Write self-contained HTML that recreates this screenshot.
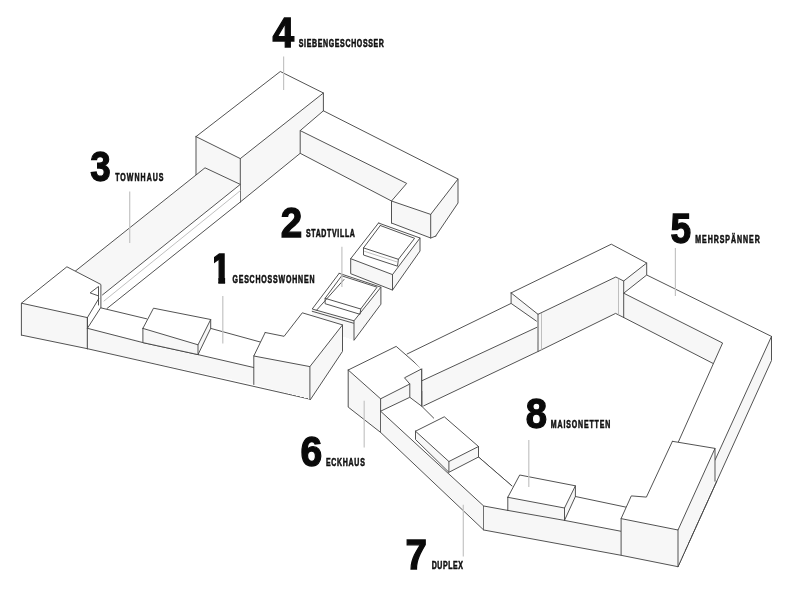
<!DOCTYPE html>
<html lang="de"><head><meta charset="utf-8"><title>Wohntypologien</title>
<style>html,body{margin:0;padding:0;background:#fff}body{width:800px;height:593px;overflow:hidden}svg{display:block;filter:blur(0.4px)}.n{font-family:"Liberation Sans",sans-serif;font-weight:bold;font-size:41.8px;fill:#0a0a0a;stroke:#0a0a0a;stroke-width:1.3px}.t{font-family:"Liberation Sans",sans-serif;font-weight:bold;font-size:10.0px;fill:#111;stroke:#111;stroke-width:0.55px}</style></head><body>
<svg width="800" height="593" viewBox="0 0 800 593">
<rect width="800" height="593" fill="#fff"/>
<g fill="none" stroke="#4a4a4a" stroke-width="0.95" stroke-linecap="round" stroke-linejoin="round">
<polygon points="196.0,136.6 280.3,71.5 323.4,93.0 323.4,110.8 300.2,130.6 300.2,153.3 240.3,202.0 196.0,175.0" fill="#f7f7f7" stroke="none" shape-rendering="crispEdges"/>
<polygon points="196.0,136.6 280.3,71.5 323.4,93.0 240.3,158.6" fill="#fff" stroke="none" shape-rendering="crispEdges"/>
<polyline points="196.0,136.6 280.3,71.5 323.4,93.0 240.3,158.6 196.0,136.6"/>
<polyline points="196.0,136.6 196.0,175.0"/>
<polyline points="240.3,158.6 240.3,202.0"/>
<polyline points="323.4,93.0 323.4,110.8"/>
<polyline points="240.3,202.0 300.2,153.3"/>
<polygon points="323.4,110.8 458.0,179.0 458.0,203.0 435.7,235.0 430.7,237.5 391.5,223.0 391.5,201.0 300.2,153.3 300.2,130.6" fill="#f7f7f7" stroke="none" shape-rendering="crispEdges"/>
<polygon points="323.4,110.8 458.0,179.0 430.7,214.4 391.5,201.0 406.7,183.4 300.2,130.6" fill="#fff" stroke="none" shape-rendering="crispEdges"/>
<polyline points="323.4,110.8 458.0,179.0 430.7,214.4 391.5,201.0 406.7,183.4 300.2,130.6 323.4,110.8"/>
<polyline points="300.2,130.6 300.2,153.3 391.5,201.0 391.5,223.0"/>
<polyline points="458.0,179.0 458.0,203.0 435.7,236.0"/>
<polyline points="430.7,214.4 430.7,238.0"/>
<polyline points="391.5,223.0 430.7,238.0 436.0,236.0"/>
<polygon points="75.2,271.2 196.0,175.0 205.0,167.8 240.3,184.4 102.5,294.9 100.6,284.3" fill="#f7f7f7" stroke="none" shape-rendering="crispEdges"/>
<polygon points="102.5,294.9 240.3,184.4 240.3,202.0 107.0,308.5 100.6,307.8" fill="#fff" stroke="none" shape-rendering="crispEdges"/>
<polyline points="75.2,271.2 196.0,175.0 205.0,167.8 240.3,184.4 102.5,294.9"/>
<polyline points="240.3,202.0 107.0,308.5"/>
<polyline points="240.3,190.7 104.0,301.0" stroke="#b0b0b0" stroke-width="0.8"/>
<polygon points="378.5,223.0 420.0,238.0 420.0,251.0 392.5,290.1 350.7,273.7 350.7,258.7" fill="#f7f7f7" stroke="none" shape-rendering="crispEdges"/>
<polygon points="378.5,223.0 420.0,238.0 392.5,274.6 350.7,258.7" fill="#fff" stroke="none" shape-rendering="crispEdges"/>
<polyline points="378.5,223.0 420.0,238.0 392.5,274.6 350.7,258.7 378.5,223.0"/>
<polyline points="420.0,238.0 420.0,251.0 392.5,290.1 392.5,274.6"/>
<polyline points="350.7,258.7 350.7,273.7 392.5,290.1"/>
<polyline points="380.3,225.5 363.5,247.9 398.4,259.3 414.6,238.3 380.3,225.5"/>
<polyline points="363.5,247.9 363.5,255.0 397.5,266.2 398.4,259.3"/>
<polyline points="364.5,251.3 397.8,262.2" stroke="#b0b0b0" stroke-width="0.8"/>
<polygon points="339.2,273.3 380.9,287.2 380.9,304.2 354.0,340.3 312.2,326.0 312.2,309.0" fill="#f7f7f7" stroke="none" shape-rendering="crispEdges"/>
<polygon points="339.2,273.3 380.9,287.2 354.0,320.8 312.2,309.0" fill="#fff" stroke="none" shape-rendering="crispEdges"/>
<polyline points="339.2,273.3 380.9,287.2 354.0,320.8 312.2,309.0 339.2,273.3"/>
<polyline points="380.9,287.2 380.9,304.2 354.0,340.3 354.0,320.8"/>
<polyline points="312.2,311.3 353.5,323.2"/>
<polyline points="341.7,275.8 325.1,298.3 360.7,309.0 377.1,287.2 341.7,275.8"/>
<polyline points="325.1,298.3 325.1,303.7 360.0,314.3 360.7,309.0"/>
<polyline points="344.0,279.5 316.5,310.3"/>
<polygon points="21.4,303.2 66.9,266.8 100.6,284.3 98.7,298.7 87.4,317.6 87.4,348.7 21.4,335.1" fill="#f7f7f7" stroke="none" shape-rendering="crispEdges"/>
<polygon points="21.4,303.2 66.9,266.8 100.6,284.3 98.7,298.7 87.4,317.6" fill="#fff" stroke="none" shape-rendering="crispEdges"/>
<polyline points="21.4,335.1 21.4,303.2 66.9,266.8 100.6,284.3"/>
<polyline points="21.4,303.2 87.4,317.6 87.4,348.7"/>
<polyline points="21.4,335.1 87.4,348.7"/>
<polyline points="87.4,317.6 98.7,298.7"/>
<polyline points="98.1,286.8 90.1,292.9 98.5,295.9"/>
<polyline points="98.5,286.8 98.5,305.0"/>
<polyline points="100.9,285.0 100.9,307.8"/>
<polygon points="87.4,328.3 100.6,307.8 261.3,342.3 254.9,353.7 254.9,384.5 87.4,348.7" fill="#f7f7f7" stroke="none" shape-rendering="crispEdges"/>
<polygon points="87.4,328.3 100.6,307.8 261.3,342.3 253.8,356.0 254.9,367.8" fill="#fff" stroke="none" shape-rendering="crispEdges"/>
<polyline points="87.4,348.7 310.6,399.3"/>
<polyline points="87.4,328.3 100.6,307.8 146.6,318.8"/>
<polyline points="87.4,328.3 142.9,342.6 198.0,354.6 254.9,367.8"/>
<polyline points="87.4,317.6 87.4,348.7"/>
<polygon points="153.5,308.2 210.7,319.5 210.7,328.4 198.0,354.6 142.9,342.6 142.9,328.4" fill="#f7f7f7" stroke="none" shape-rendering="crispEdges"/>
<polygon points="142.9,328.4 153.5,308.2 210.7,319.5 198.0,344.8" fill="#fff" stroke="none" shape-rendering="crispEdges"/>
<polyline points="142.9,328.4 153.5,308.2 210.7,319.5 198.0,344.8 142.9,328.4"/>
<polyline points="142.9,328.4 142.9,342.6"/>
<polyline points="198.0,344.8 198.0,354.6"/>
<polyline points="210.7,319.5 210.7,328.4 198.0,354.6"/>
<polyline points="210.7,328.4 261.3,342.3"/>
<polyline points="142.9,342.6 198.0,354.6"/>
<polygon points="265.2,332.5 284.1,336.3 302.3,312.8 342.5,324.9 342.5,351.4 310.6,399.3 253.8,384.5 253.8,356.0" fill="#f7f7f7" stroke="none" shape-rendering="crispEdges"/>
<polygon points="265.2,332.5 284.1,336.3 302.3,312.8 342.5,324.9 309.9,366.6 253.8,356.0" fill="#fff" stroke="none" shape-rendering="crispEdges"/>
<polyline points="265.2,332.5 284.1,336.3 302.3,312.8 342.5,324.9 309.9,366.6 253.8,356.0 265.2,332.5"/>
<polyline points="253.8,356.0 253.8,384.5"/>
<polyline points="309.9,366.6 309.9,399.3"/>
<polyline points="342.5,324.9 342.5,351.4 310.6,399.3"/>
<polygon points="348.2,370.0 396.2,346.4 421.8,368.8 421.8,406.3 409.8,397.3 380.6,411.2 380.6,432.4 348.2,407.1" fill="#f7f7f7" stroke="none" shape-rendering="crispEdges"/>
<polygon points="348.2,370.0 396.2,346.4 421.8,368.8 404.5,377.8 409.8,384.0 380.6,398.8" fill="#fff" stroke="none" shape-rendering="crispEdges"/>
<polyline points="348.2,370.0 396.2,346.4 421.8,368.8 404.5,377.8 409.8,384.0 380.6,398.8 348.2,370.0"/>
<polyline points="348.2,370.0 348.2,407.1 380.6,432.4 380.6,398.8"/>
<polyline points="421.8,368.8 421.8,406.3"/>
<polyline points="409.8,384.0 409.8,397.3"/>
<polygon points="380.6,411.2 409.8,397.3 421.8,406.3 512.0,486.0 507.8,510.4 483.7,506.0 483.7,530.0 380.6,432.4" fill="#f7f7f7" stroke="none" shape-rendering="crispEdges"/>
<polygon points="380.6,411.2 409.8,397.3 421.8,406.3 512.0,486.0 507.8,510.4 483.7,506.0" fill="#fff" stroke="none" shape-rendering="crispEdges"/>
<polyline points="380.6,411.2 409.8,397.3 421.8,406.3 433.7,418.1"/>
<polyline points="380.6,411.2 483.7,506.0 483.7,530.0 380.6,432.4"/>
<polygon points="415.5,431.2 444.3,416.8 478.5,446.5 478.5,457.0 448.9,472.3 415.5,439.5" fill="#f7f7f7" stroke="none" shape-rendering="crispEdges"/>
<polygon points="415.5,431.2 444.3,416.8 478.5,446.5 448.9,461.5" fill="#fff" stroke="none" shape-rendering="crispEdges"/>
<polyline points="415.5,431.2 444.3,416.8 478.5,446.5 448.9,461.5 415.5,431.2"/>
<polyline points="415.5,431.2 415.5,439.5 448.9,472.3 448.9,461.5"/>
<polyline points="478.5,446.5 478.5,457.0 448.9,472.3"/>
<polyline points="478.5,457.0 512.0,486.0"/>
<polygon points="483.7,506.0 478.5,457.0 512.0,486.0 575.4,496.5 626.2,507.2 621.1,518.6 621.1,555.3 483.7,530.0" fill="#f7f7f7" stroke="none" shape-rendering="crispEdges"/>
<polygon points="483.7,506.0 478.5,457.0 512.0,486.0 575.4,496.5 626.2,507.2 621.1,531.3" fill="#fff" stroke="none" shape-rendering="crispEdges"/>
<polyline points="483.7,506.0 507.8,510.4"/>
<polyline points="478.5,457.0 512.0,486.0"/>
<polyline points="483.7,530.0 621.1,555.3"/>
<polygon points="519.7,475.0 575.4,485.8 575.4,496.5 564.5,520.4 507.8,510.4 507.8,497.3" fill="#f7f7f7" stroke="none" shape-rendering="crispEdges"/>
<polygon points="507.8,497.3 519.7,475.0 575.4,485.8 564.5,508.0" fill="#fff" stroke="none" shape-rendering="crispEdges"/>
<polyline points="507.8,497.3 519.7,475.0 575.4,485.8 564.5,508.0 507.8,497.3"/>
<polyline points="507.8,497.3 507.8,510.4"/>
<polyline points="564.5,508.0 564.5,520.4"/>
<polyline points="575.4,485.8 575.4,496.5 564.5,520.4"/>
<polyline points="507.8,510.4 564.5,520.4 621.1,531.3"/>
<polyline points="575.4,496.5 626.2,507.2"/>
<polygon points="771.5,336.4 771.5,360.5 716.8,481.2 715.0,448.4 678.4,441.8 713.4,363.6 722.6,343.0" fill="#f7f7f7" stroke="none" shape-rendering="crispEdges"/>
<polygon points="771.5,336.4 715.0,460.2 715.0,448.4 678.4,441.8 713.4,363.6 722.6,343.0" fill="#fff" stroke="none" shape-rendering="crispEdges"/>
<polyline points="771.5,336.4 715.0,460.2"/>
<polyline points="771.5,336.4 771.5,360.5 678.0,566.7"/>
<polyline points="713.4,363.6 678.4,441.8"/>
<polygon points="672.4,441.3 715.0,448.4 715.0,481.2 678.0,566.7 621.1,555.3 621.1,518.6 631.3,495.9 646.4,497.1" fill="#f7f7f7" stroke="none" shape-rendering="crispEdges"/>
<polygon points="672.4,441.3 715.0,448.4 678.0,530.0 621.1,518.6 631.3,495.9 646.4,497.1" fill="#fff" stroke="none" shape-rendering="crispEdges"/>
<polyline points="672.4,441.3 715.0,448.4 678.0,530.0 621.1,518.6 631.3,495.9 646.4,497.1 672.4,441.3"/>
<polyline points="621.1,518.6 621.1,555.3 678.0,566.7 678.0,530.0"/>
<polyline points="715.0,448.4 715.0,481.2"/>
<polyline points="678.0,566.7 716.8,481.2"/>
<polygon points="407.1,354.0 511.1,303.4 536.4,321.1 538.0,351.5 423.6,405.9 421.8,380.8 421.5,369.2" fill="#f7f7f7" stroke="none" shape-rendering="crispEdges"/>
<polygon points="407.1,354.0 511.1,303.4 536.4,321.1 536.9,327.3 421.8,380.8 421.8,368.8" fill="#fff" stroke="none" shape-rendering="crispEdges"/>
<polyline points="407.1,354.0 511.1,303.4"/>
<polyline points="421.8,380.8 536.9,327.3"/>
<polyline points="423.6,405.9 538.0,351.5"/>
<polyline points="421.8,368.8 421.8,406.3"/>
<polygon points="646.7,275.0 771.5,336.4 722.6,343.0 713.4,363.6 623.7,317.5 623.7,293.2" fill="#f7f7f7" stroke="none" shape-rendering="crispEdges"/>
<polygon points="646.7,275.0 771.5,336.4 722.6,343.0 623.7,293.2" fill="#fff" stroke="none" shape-rendering="crispEdges"/>
<polyline points="646.7,275.0 771.5,336.4"/>
<polyline points="623.7,293.2 722.6,343.0 713.4,363.6 623.7,317.5"/>
<polygon points="511.1,292.9 611.3,244.2 646.7,263.0 646.7,275.0 623.7,293.2 623.7,317.5 615.6,313.4 538.0,351.5 538.0,323.0 511.1,303.4" fill="#f7f7f7" stroke="none" shape-rendering="crispEdges"/>
<polygon points="511.1,292.9 611.3,244.2 646.7,263.0 623.7,281.0 615.8,277.0 538.0,314.3" fill="#fff" stroke="none" shape-rendering="crispEdges"/>
<polyline points="511.1,292.9 611.3,244.2 646.7,263.0 623.7,281.0 615.8,277.0 538.0,314.3 511.1,292.9"/>
<polyline points="511.1,292.9 511.1,303.4 536.4,321.1"/>
<polyline points="538.0,314.3 538.0,351.5 615.6,313.4 623.7,317.5"/>
<polyline points="618.5,279.0 618.5,314.5" stroke="#b0b0b0" stroke-width="0.8"/>
<polyline points="541.5,313.5 541.5,349.5" stroke="#b0b0b0" stroke-width="0.8"/>
<polyline points="623.7,281.0 623.7,317.5"/>
<polyline points="646.7,263.0 646.7,275.0 623.7,293.2"/>
</g>
<g stroke="#c4c4c4" stroke-width="1.2">
<line x1="283.6" y1="56.5" x2="283.6" y2="90.0"/>
<line x1="129.7" y1="191.5" x2="129.7" y2="243.0"/>
<line x1="341.9" y1="246.8" x2="341.9" y2="287.0"/>
<line x1="222.8" y1="296.0" x2="222.8" y2="343.5"/>
<line x1="675.4" y1="248.0" x2="675.4" y2="296.0"/>
<line x1="364.2" y1="400.8" x2="364.2" y2="447.6"/>
<line x1="463.3" y1="504.7" x2="463.3" y2="556.5"/>
<line x1="528.8" y1="440.0" x2="528.8" y2="487.0"/>
</g>
<g><text class="n" transform="translate(272.62,47.1) scale(0.929,1)" x="0" y="0">4</text></g>
<text class="t" transform="translate(298.8,47.1) scale(0.70,1)" x="0" y="0" textLength="121.6" lengthAdjust="spacing">SIEBENGESCHOSSER</text>
<g><text class="n" transform="translate(90.23,181.1) scale(0.879,1)" x="0" y="0">3</text></g>
<text class="t" transform="translate(115.2,181.1) scale(0.70,1)" x="0" y="0" textLength="69.0" lengthAdjust="spacing">TOWNHAUS</text>
<g><text class="n" transform="translate(280.66,237.0) scale(0.924,1)" x="0" y="0">2</text></g>
<text class="t" transform="translate(305.9,237.0) scale(0.70,1)" x="0" y="0" textLength="70.0" lengthAdjust="spacing">STADTVILLA</text>
<clipPath id="c1"><polygon points="214.0,242.9 225.1,242.9 225.1,284.9 218.3,284.9 218.3,277.8 214.0,277.8"/></clipPath>
<g clip-path="url(#c1)"><text class="n" transform="translate(210.58,282.9) scale(0.881,1)" x="0" y="0">1</text></g>
<text class="t" transform="translate(232.4,282.9) scale(0.70,1)" x="0" y="0" textLength="117.3" lengthAdjust="spacing">GESCHOSSWOHNEN</text>
<g><text class="n" transform="translate(670.44,242.5) scale(0.887,1)" x="0" y="0">5</text></g>
<text class="t" transform="translate(695.2,242.5) scale(0.70,1)" x="0" y="0" textLength="92.3" lengthAdjust="spacing">MEHRSPÄNNER</text>
<g><text class="n" transform="translate(300.58,466.4) scale(0.935,1)" x="0" y="0">6</text></g>
<text class="t" transform="translate(325.9,466.4) scale(0.70,1)" x="0" y="0" textLength="55.6" lengthAdjust="spacing">ECKHAUS</text>
<g><text class="n" transform="translate(405.54,568.6) scale(0.923,1)" x="0" y="0">7</text></g>
<text class="t" transform="translate(431.7,568.6) scale(0.70,1)" x="0" y="0" textLength="44.7" lengthAdjust="spacing">DUPLEX</text>
<g><text class="n" transform="translate(525.68,428.4) scale(0.916,1)" x="0" y="0">8</text></g>
<text class="t" transform="translate(550.8,428.4) scale(0.70,1)" x="0" y="0" textLength="85.0" lengthAdjust="spacing">MAISONETTEN</text>
</svg></body></html>
